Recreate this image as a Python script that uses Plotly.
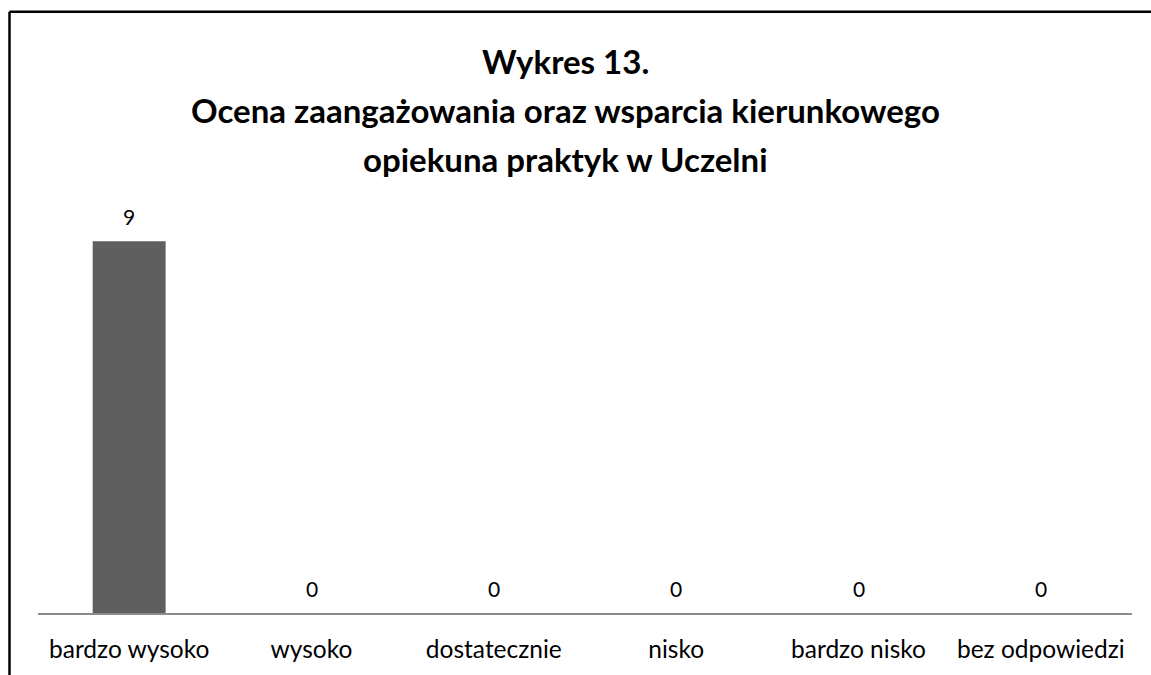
import plotly.graph_objects as go

categories = ["bardzo wysoko", "wysoko", "dostatecznie", "nisko", "bardzo nisko", "bez odpowiedzi"]
values = [9, 0, 0, 0, 0, 0]
title_lines = ["Wykres 13.", "Ocena zaangażowania oraz wsparcia kierunkowego", "opiekuna praktyk w Uczelni"]

W, H = 1151, 675
L, R, T, B = 38, W - 1132, 200, H - 616
PW, PH = W - L - R, H - T - B
FONT = "Lato, Open Sans, sans-serif"


def px_x(x):
    return (x - L) / PW


def px_y(y):
    return (H - B - y) / PH


fig = go.Figure(go.Bar(
    x=categories, y=values,
    marker=dict(color="#5f5f5f", line=dict(width=0)),
    width=0.4,
))

annotations = []
# value labels
for c, v in zip(categories, values):
    annotations.append(dict(
        x=c, y=v, xref="x", yref="y", text=str(v), showarrow=False,
        xanchor="center", yanchor="middle", yshift=24.5,
        font=dict(family=FONT, size=21, color="#000000"),
    ))
# title lines
title_centers = [59.5, 109, 158.5]
for t, yc in zip(title_lines, title_centers):
    annotations.append(dict(
        x=px_x(565), y=px_y(yc), xref="paper", yref="paper", text=t, showarrow=False,
        xanchor="center", yanchor="middle",
        font=dict(family=FONT, size=33, color="#000000", weight="bold"),
    ))

fig.update_layout(
    width=W, height=H,
    margin=dict(l=L, r=R, t=T, b=B),
    paper_bgcolor="white", plot_bgcolor="white",
    showlegend=False,
    font=dict(family=FONT, size=24.5, color="#000000"),
    xaxis=dict(showline=True, linecolor="#8c8c8c", linewidth=2, ticks="", showgrid=False,
               tickfont=dict(size=24.5, color="#000000"), ticklabelstandoff=14, fixedrange=True),
    yaxis=dict(range=[0, 10], visible=False, showgrid=False, fixedrange=True),
    annotations=annotations,
    shapes=[
        dict(type="line", xref="paper", yref="paper",
             x0=px_x(9.5), x1=px_x(W + 5),
             y0=px_y(10.5), y1=px_y(10.5),
             line=dict(color="black", width=2.5)),
        dict(type="line", xref="paper", yref="paper",
             x0=px_x(9.5), x1=px_x(9.5),
             y0=px_y(10.5), y1=px_y(H + 5),
             line=dict(color="black", width=2.5)),
    ],
)

fig.write_html("out.html", config={"displayModeBar": False},
               post_script="document.body.style.margin='0px';")
